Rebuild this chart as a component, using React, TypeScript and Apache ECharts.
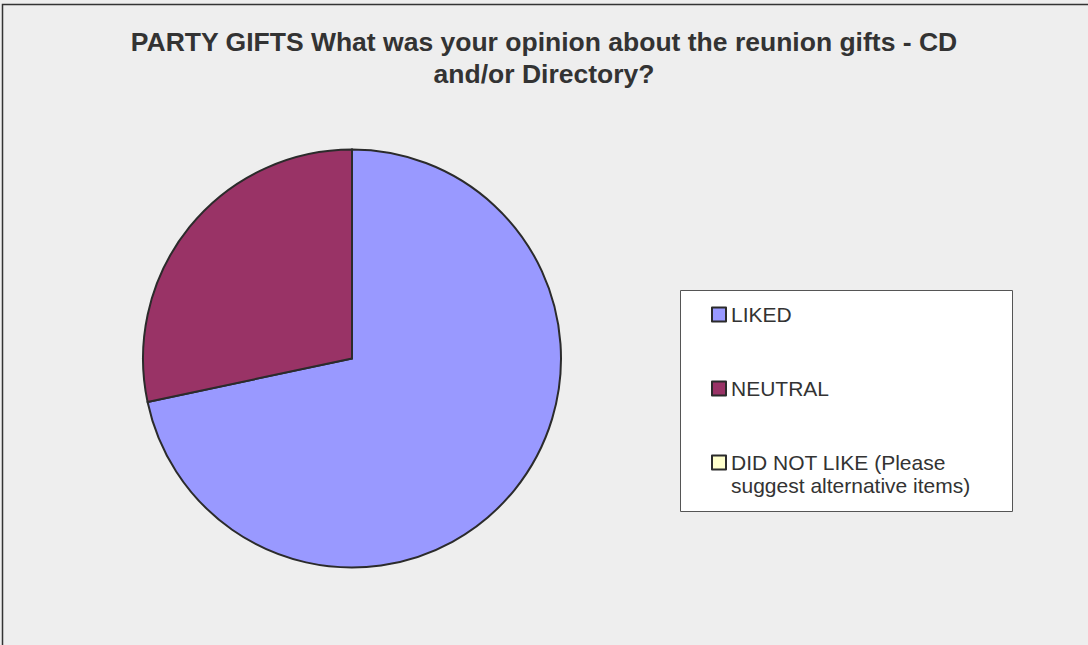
import React, { useEffect, useRef } from 'react';
import * as echarts from 'echarts';

const categories = ['LIKED', 'NEUTRAL', 'DID NOT LIKE (Please suggest alternative items)'];
const legendLabels = ['LIKED', 'NEUTRAL', ' \nDID NOT LIKE (Please\nsuggest alternative items)'];
const values = [43, 17, 0];
const colors = ['#9999ff', '#993366', '#ffffcc'];
const titleLines = ['PARTY GIFTS What was your opinion about the reunion gifts - CD', 'and/or Directory?'];

const FONT = '"Liberation Sans", Arial, Helvetica, sans-serif';

export default function App() {
  const ref = useRef<HTMLDivElement>(null);

  useEffect(() => {
    if (!ref.current) return;
    const chart = echarts.init(ref.current, undefined, { renderer: 'svg' });
    const L = 23;
    const option = {
      animation: false,
      backgroundColor: '#eeeeee',
      title: {
        text: titleLines.join('\n'),
        left: 'center',
        top: 21,
        textStyle: { fontSize: 26.5, fontWeight: 'bold', color: '#333333', fontFamily: FONT, lineHeight: 32 },
      },
      graphic: [
        {
          type: 'rect',
          z: 0,
          shape: { x: 2.5, y: 4.5, width: 2000, height: 2000 },
          style: { fill: 'none', stroke: '#333333', lineWidth: 1.5 },
          silent: true,
        },
        {
          type: 'rect',
          z: 0,
          shape: { x: 680.5, y: 290.5, width: 332, height: 221 },
          style: { fill: '#ffffff', stroke: '#555555', lineWidth: 1 },
          silent: true,
        },
      ],
      legend: {
        orient: 'vertical',
        left: 711,
        top: 280,
        padding: 0,
        itemGap: 5,
        itemWidth: 14,
        itemHeight: 14,
        icon: 'rect',
        selectedMode: false,
        itemStyle: { borderColor: '#2b2b2b', borderWidth: 2 },
        textStyle: { fontSize: 21, color: '#333333', fontFamily: FONT, lineHeight: L },
        formatter: (name: string) => legendLabels[categories.indexOf(name)],
        data: categories.map((c, i) => ({
          name: c,
          textStyle: { padding: i < 2 ? [L, 0, L, 0] : [0, 0, 0, 0] },
        })),
      },
      series: [
        {
          type: 'pie',
          center: [352, 358.5],
          radius: 209,
          startAngle: 90,
          clockwise: true,
          label: { show: false },
          labelLine: { show: false },
          emphasis: { disabled: true },
          itemStyle: { borderColor: '#2b2b2b', borderWidth: 2 },
          data: categories.map((c, i) => ({ name: c, value: values[i], itemStyle: { color: colors[i] } })),
        },
      ],
    };
    chart.setOption(option as any);
    return () => chart.dispose();
  }, []);

  return (
    <div
      ref={ref}
      style={{ position: 'absolute', left: 0, top: 0, width: 1088, height: 645 }}
    />
  );
}
